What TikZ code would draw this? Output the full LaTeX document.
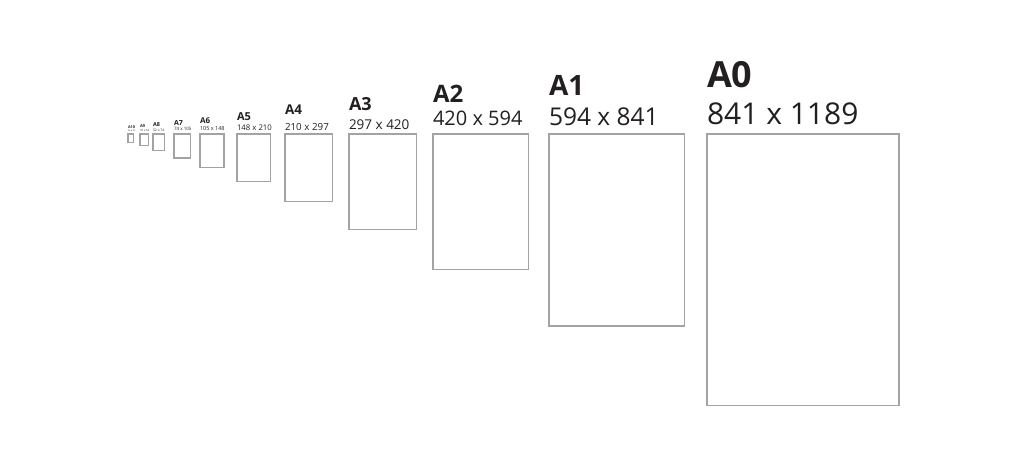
\documentclass[tikz,border=0pt]{standalone}
\usepackage{fontspec}
\setmainfont{Open Sans}
\definecolor{inkgray}{HTML}{231F20}
\definecolor{edgegray}{HTML}{A3A3A3}
\tikzset{
  sheet/.style={draw=edgegray, line width=1.1pt, inner sep=0pt, outer sep=0pt, anchor=north west},
  tag/.style={anchor=base west, inner sep=0pt, outer sep=0pt, text=inkgray}
}

\begin{document}
\begin{tikzpicture}[x=1pt, y=-1pt]
\useasboundingbox (0,0) rectangle (1024,458);
% name / left / width mm / height mm / title size / title baseline / size font / size baseline
\foreach \n/\x/\w/\h/\ts/\tb/\ns/\nb in {
    A0/707/841/1189/36/87/30/124,
    A1/549/594/841/28/95/24.5/125,
    A2/433/420/594/24/102/20/125,
    A3/349/297/420/18/110/13.5/129,
    A4/285/210/297/13.5/114/9.8/130,
    A5/237/148/210/11/120/7.8/130,
    A6/200/105/148/8/123/5.5/130,
    A7/174/74/105/7/125/4.5/130,
    A8/153/52/74/5.5/126/3.4/131,
    A9/140/37/52/4/127/2.8/131,
    A10/128/26/37/3.8/128/2.2/131}{
  \node[sheet, minimum width=\w*0.2283pt, minimum height=\h*0.2283pt] (sheet\n) at (\x,134) {};
  \node[tag, font=\bfseries\fontsize{\ts}{\ts}\selectfont] (title\n) at (\x,\tb) {\n};
  \node[tag, font=\fontsize{\ns}{\ns}\selectfont] (size\n) at (\x,\nb) {\w{} x \h};
}
\end{tikzpicture}
\end{document}
